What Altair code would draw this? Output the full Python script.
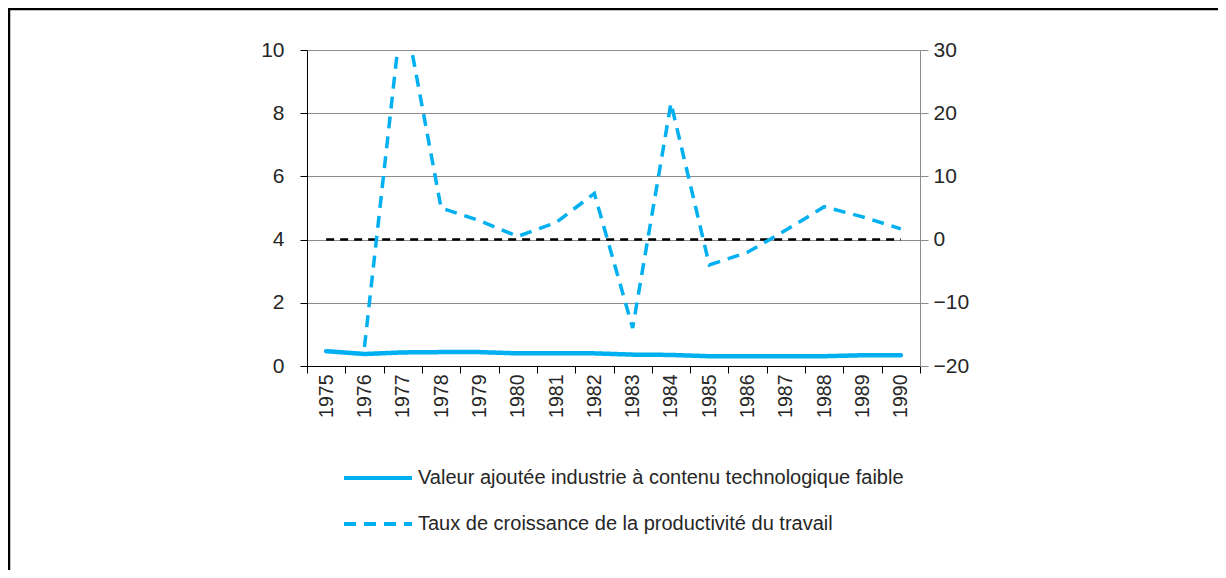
import altair as alt
import pandas as pd

years = ["1975", "1976", "1977", "1978", "1979", "1980", "1981", "1982",
         "1983", "1984", "1985", "1986", "1987", "1988", "1989", "1990"]
valeur = [0.47, 0.38, 0.43, 0.44, 0.44, 0.40, 0.40, 0.40,
          0.36, 0.35, 0.31, 0.31, 0.31, 0.31, 0.34, 0.34]
taux = [None, -17.0, 37.5, 5.0, 3.0, 0.5, 2.7, 7.3,
        -14.0, 21.6, -4.0, -2.0, 1.5, 5.2, 3.6, 1.7]
zero_line = [0, 0, 0, 0, 0, 0, 0, 0, 0, 0, 0, 0, 0, 0, 0, 0]

s1 = "Valeur ajoutée industrie à contenu technologique faible"
s2 = "Taux de croissance de la productivité du travail"

df1 = pd.DataFrame({"year": years, "value": valeur, "series": s1})
df2 = pd.DataFrame({"year": years, "value": taux, "series": s2}).dropna()
df0 = pd.DataFrame({"year": years, "value": zero_line})

FONT = "Liberation Sans"
BLUE = "#00B0F0"
TXT = "#262626"
W, H = 613, 316
PAD_L, PAD_T = 299, 42

x_enc = alt.X("year:N", sort=years, title=None,
              scale=alt.Scale(paddingInner=0, paddingOuter=0),
              axis=alt.Axis(labelAngle=-90, labelFontSize=19.5, labelFont=FONT,
                            labelColor=TXT, tickBand="extent",
                            tickSize=7, tickColor="#000000", domainColor="#000000",
                            labelPadding=1, labelBaseline="middle", labelAlign="right"))

legend = alt.Legend(title=None, orient="none", legendX=35, legendY=392,
                    symbolType="stroke", symbolSize=4624, symbolStrokeWidth=4,
                    labelFontSize=20, labelFont=FONT, labelColor=TXT,
                    labelLimit=800, rowPadding=-4, labelOffset=4)

color = alt.Color("series:N", scale=alt.Scale(domain=[s1, s2], range=[BLUE, BLUE]),
                  legend=legend)
dash = alt.StrokeDash("series:N", scale=alt.Scale(domain=[s1, s2], range=[[1, 0], [12, 8]]),
                      legend=legend)

left_axis = alt.Axis(values=[0, 2, 4, 6, 8, 10], labelFontSize=21, labelFont=FONT,
                     labelColor=TXT, grid=True, gridColor="#8C8C8C",
                     domainColor="#000000", tickColor="#000000", tickSize=7,
                     labelPadding=16)
right_axis = alt.Axis(values=[-20, -10, 0, 10, 20, 30], orient="right", labelFontSize=21,
                      labelFont=FONT, labelColor=TXT, grid=False,
                      domainColor="#8C8C8C", tickColor="#8C8C8C", tickSize=8,
                      labelPadding=5)

solid = alt.Chart(df1).mark_line(strokeWidth=4.5, strokeCap="round").encode(
    x=x_enc,
    y=alt.Y("value:Q", title=None, scale=alt.Scale(domain=[0, 10], nice=False), axis=left_axis),
    color=color, strokeDash=dash)

y_right = alt.Y("value:Q", title=None, scale=alt.Scale(domain=[-20, 30], nice=False),
                axis=right_axis)

zero = alt.Chart(df0).mark_line(strokeWidth=2.5, color="#000000", strokeDash=[8, 6]).encode(
    x=alt.X("year:N", sort=years), y=y_right)

dashed = alt.Chart(df2).mark_line(strokeWidth=3.5, clip=True).encode(
    x=alt.X("year:N", sort=years), y=y_right,
    color=color, strokeDash=dash)

frame_data = alt.Data(values=[{"k": 1}])
frame_top = alt.Chart(frame_data).mark_rule(color="#000000", strokeWidth=2.5).encode(
    x=alt.value(-PAD_L), x2=alt.value(1300), y=alt.value(-PAD_T + 1))
frame_left = alt.Chart(frame_data).mark_rule(color="#000000", strokeWidth=2.5).encode(
    x=alt.value(-PAD_L + 1), y=alt.value(-PAD_T), y2=alt.value(600))

main = alt.layer(solid, alt.layer(zero, dashed)).resolve_scale(y="independent")
chart = alt.layer(main, frame_top, frame_left).properties(
    width=W, height=H,
    autosize=alt.AutoSizeParams(type="none"),
    padding={"left": PAD_L, "top": PAD_T, "right": 1210 - PAD_L - W, "bottom": 562 - PAD_T - H},
).configure_view(stroke=None).configure(background="#ffffff")

chart.save("out.html", embed_options={"renderer": "svg", "actions": False})
